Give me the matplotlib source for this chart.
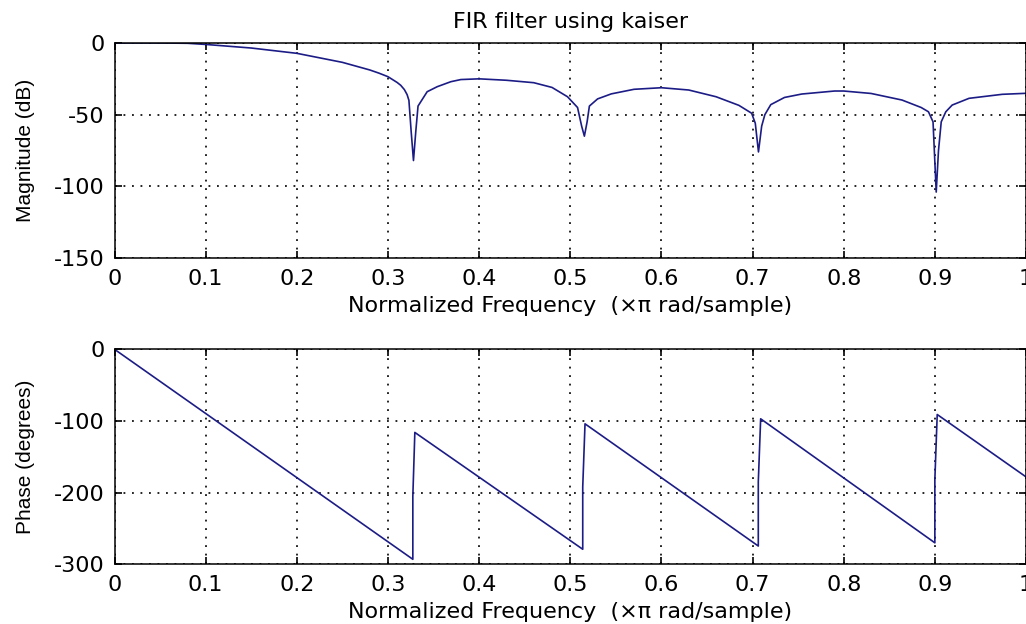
import matplotlib
matplotlib.use("Agg")
import matplotlib.pyplot as plt

# magnitude response (normalized freq, dB)
mag_f = [0.0, 0.05, 0.08, 0.1, 0.15, 0.2, 0.25, 0.28, 0.29, 0.3, 0.305, 0.31,
         0.314, 0.318, 0.321, 0.323,
         0.3255, 0.328, 0.3305, 0.333, 0.336, 0.343, 0.354, 0.369, 0.38, 0.4,
         0.43, 0.46, 0.48, 0.497, 0.508, 0.5125, 0.5155, 0.5185, 0.521, 0.53,
         0.545, 0.57, 0.6, 0.63, 0.66, 0.685, 0.699, 0.703, 0.7065, 0.71,
         0.7135, 0.72, 0.735, 0.754, 0.79, 0.8, 0.83, 0.864, 0.885, 0.893,
         0.898, 0.9015, 0.904, 0.907, 0.912, 0.919, 0.9375, 0.974, 1.0]
mag_db = [0.0, 0.0, -0.2, -1.0, -3.5, -7.2, -13.5, -18.8, -21.0, -23.5, -25.5, -27.5,
          -29.5, -32.5, -36.0, -40.0,
          -62.0, -82.0, -62.0, -44.0, -41.0, -34.0, -30.5, -27.0, -25.5, -25.0,
          -26.0, -27.7, -31.0, -37.5, -45.0, -58.0, -65.0, -55.0, -44.0, -39.0,
          -35.5, -32.3, -31.2, -32.8, -37.5, -43.5, -49.0, -56.0, -76.0, -58.0,
          -50.0, -43.0, -38.0, -35.6, -33.5, -33.5, -35.2, -39.8, -45.0, -48.0,
          -55.0, -104.0, -75.0, -55.0, -48.0, -43.3, -38.6, -35.8, -35.1]

# phase response (degrees), straight runs between the wraps
ph_f = [0.0, 0.3273, 0.3273, 0.3295, 0.5137, 0.5137, 0.5162, 0.7063, 0.7063,
        0.7089, 0.9, 0.9, 0.9026, 1.0]
ph_deg = [0.0, -293, -205, -116, -279, -192, -104, -274.5, -185,
          -97, -270, -182, -91, -178]

xticks = [0, 0.1, 0.2, 0.3, 0.4, 0.5, 0.6, 0.7, 0.8, 0.9, 1]
xtick_labels = ["0", "0.1", "0.2", "0.3", "0.4", "0.5", "0.6", "0.7", "0.8", "0.9", "1"]
mag_ticks = [0, -50, -100, -150]
ph_ticks = [0, -100, -200, -300]

xlab = "Normalized Frequency  (\u00d7\u03c0 rad/sample)"
line_col = "#1c1c86"

plt.rcParams["font.family"] = ["DejaVu Sans"]
fig = plt.figure(figsize=(10.26, 6.24), dpi=100)
fig.patch.set_facecolor("white")

W = 911.5 / 1026
ax1 = fig.add_axes([114.5 / 1026, 1 - 258 / 624, W, 215 / 624])
ax2 = fig.add_axes([114.5 / 1026, 1 - 564.3 / 624, W, 215 / 624])

ax1.plot(mag_f, mag_db, color=line_col, lw=1.2)
ax2.plot(ph_f, ph_deg, color=line_col, lw=1.2)

for ax, yt in ((ax1, mag_ticks), (ax2, ph_ticks)):
    ax.set_xlim(0, 1)
    ax.set_ylim(min(yt), max(yt))
    ax.set_xticks(xticks)
    ax.set_xticklabels(xtick_labels)
    ax.set_yticks(yt)
    ax.set_yticklabels([str(v) for v in yt])
    ax.tick_params(direction="in", length=5, width=1.2, top=True, right=True,
                   labelsize=16, pad=8, colors="black")
    ax.tick_params(axis="y", pad=7)
    ax.grid(True, color="black", linestyle=(0, (1.1, 4.0)), linewidth=1.2)
    for s in ax.spines.values():
        s.set_linewidth(1.1)
    ax.set_xlabel(xlab, fontsize=16, labelpad=5)

ax1.set_ylabel("Magnitude (dB)", family="Liberation Sans", fontsize=15, labelpad=14)
ax2.set_ylabel("Phase (degrees)", family="Liberation Sans", fontsize=15, labelpad=14)
ax1.set_title("FIR filter using kaiser", fontsize=16, pad=11)

fig.savefig("out.png", dpi=100, facecolor="white")
